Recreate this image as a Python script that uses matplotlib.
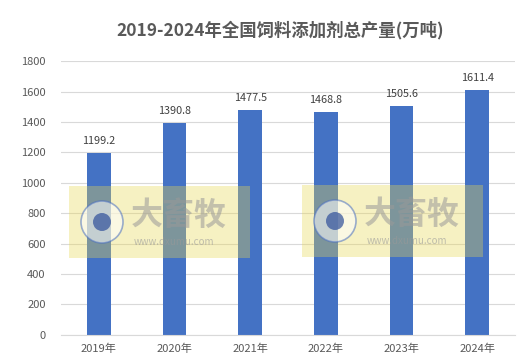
import matplotlib
matplotlib.use("Agg")
import matplotlib.pyplot as plt
from matplotlib.patches import Rectangle, Circle

plt.rcParams['font.family'] = ['Noto Sans CJK SC', 'DejaVu Sans']

# data
years = ['2019年', '2020年', '2021年', '2022年', '2023年', '2024年']
output = [1199.2, 1390.8, 1477.5, 1468.8, 1505.6, 1611.4]
y_ticks = [0, 200, 400, 600, 800, 1000, 1200, 1400, 1600, 1800]

bar_color = '#4472C4'
text_gray = '#595959'

fig = plt.figure(figsize=(5.26, 3.64), dpi=100)
ax = fig.add_axes([0.116, 0.080, 0.863, 0.752])

x = list(range(len(years)))
ax.bar(x, output, width=0.31, color=bar_color, zorder=2)

for xi, v in zip(x, output):
    ax.annotate(f'{v:.1f}', (xi, v), xytext=(0, 5), textcoords='offset points',
                ha='center', va='bottom', fontsize=7.8, color='#404040')

ax.set_xlim(-0.5, len(years) - 0.5)
ax.set_ylim(0, 1800)
ax.set_yticks(y_ticks)
ax.set_xticks(x)
ax.set_xticklabels(years)
ax.tick_params(axis='both', length=0, labelsize=8, colors=text_gray)
ax.tick_params(axis='y', pad=11)
ax.tick_params(axis='x', pad=6)
ax.grid(axis='y', color='#d9d9d9', linewidth=0.8, zorder=0)
for side in ['top', 'right', 'left']:
    ax.spines[side].set_visible(False)
ax.spines['bottom'].set_color('#d9d9d9')

fig.text(0.532, 0.918, '2019-2024年全国饲料添加剂总产量(万吨)', ha='center', va='center',
         fontsize=12.5, fontweight='bold', color=text_gray)

# watermarks (figure-pixel coordinates)
def watermark(x0, y0):
    W, H = 526, 364
    fig.patches.append(Rectangle((x0 / W, 1 - (y0 + 72) / H), 181 / W, 72 / H,
                                 transform=fig.transFigure, facecolor='#e8d850',
                                 alpha=0.35, edgecolor='none', zorder=5))
    cx, cy = (x0 + 33) / W, 1 - (y0 + 36) / H
    fig.patches.append(Circle((cx * W, cy * H), 21, transform=None,
                              facecolor='white', edgecolor='#4a6fc0', linewidth=1.2,
                              alpha=0.55, zorder=6))
    fig.patches.append(Circle((cx * W, cy * H), 9, transform=None,
                              facecolor='#2f4f9a', edgecolor='none', alpha=0.7, zorder=7))
    fig.text((x0 + 110) / W, 1 - (y0 + 30) / H, '大畜牧', ha='center', va='center',
             fontsize=23, fontweight='bold', color='#999999', alpha=0.55, zorder=8)
    fig.text((x0 + 105) / W, 1 - (y0 + 56) / H, 'www.dxumu.com', ha='center', va='center',
             fontsize=7, color='#999999', alpha=0.6, zorder=8)

watermark(69, 186)
watermark(302, 185)

fig.savefig('out.png', dpi=100)
